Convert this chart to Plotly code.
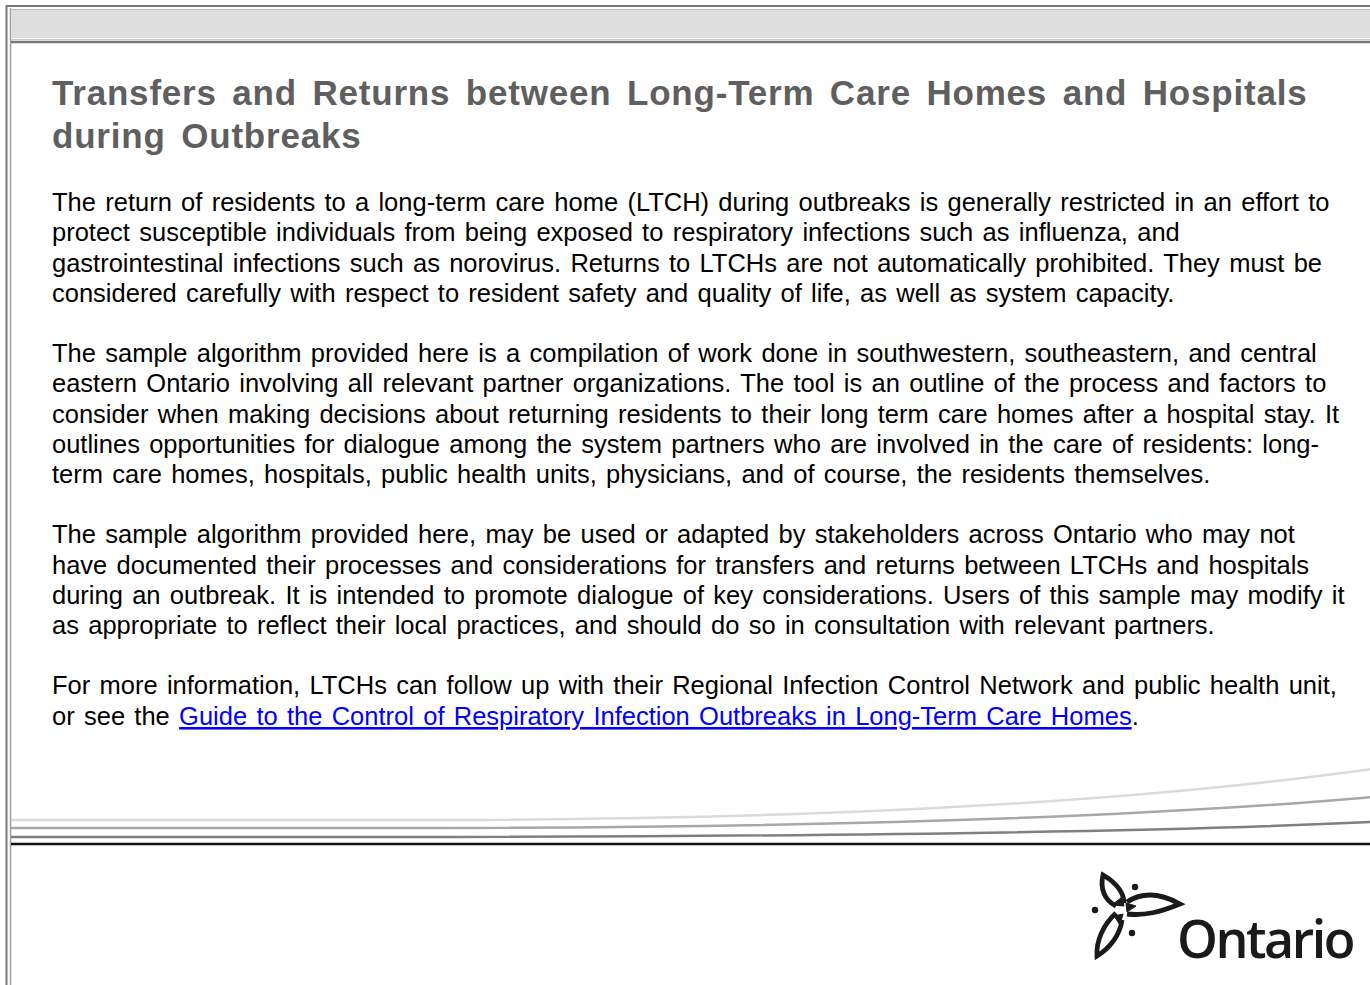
import plotly.graph_objects as go

W, H = 1370, 985

title_lines = [
    "Transfers and Returns between Long-Term Care Homes and Hospitals",
    "during Outbreaks",
]

paragraphs = [
    [
        "The return of residents to a long-term care home (LTCH) during outbreaks is generally restricted in an effort to",
        "protect susceptible individuals from being exposed to respiratory infections such as influenza, and",
        "gastrointestinal infections such as norovirus. Returns to LTCHs are not automatically prohibited. They must be",
        "considered carefully with respect to resident safety and quality of life, as well as system capacity.",
    ],
    [
        "The sample algorithm provided here is a compilation of work done in southwestern, southeastern, and central",
        "eastern Ontario involving all relevant partner organizations. The tool is an outline of the process and factors to",
        "consider when making decisions about returning residents to their long term care homes after a hospital stay. It",
        "outlines opportunities for dialogue among the system partners who are involved in the care of residents: long-",
        "term care homes, hospitals, public health units, physicians, and of course, the residents themselves.",
    ],
    [
        "The sample algorithm provided here, may be used or adapted by stakeholders across Ontario who may not",
        "have documented their processes and considerations for transfers and returns between LTCHs and hospitals",
        "during an outbreak. It is intended to promote dialogue of key considerations. Users of this sample may modify it",
        "as appropriate to reflect their local practices, and should do so in consultation with relevant partners.",
    ],
    [
        "For more information, LTCHs can follow up with their Regional Infection Control Network and public health unit,",
        "or see the {LINK}.",
    ],
]

link_text = "Guide to the Control of Respiratory Infection Outbreaks in Long-Term Care Homes"
logo_text = "Ontario"

fig = go.Figure()
fig.update_layout(
    width=W, height=H,
    margin=dict(l=0, r=0, t=0, b=0),
    paper_bgcolor="white", plot_bgcolor="white",
    xaxis=dict(range=[0, W], visible=False, fixedrange=True),
    yaxis=dict(range=[H, 0], visible=False, fixedrange=True),
    showlegend=False,
)

shapes = []
# outer frame
shapes.append(dict(type="line", x0=6.5, x1=6.5, y0=5, y1=H, line=dict(color="#777777", width=2)))
shapes.append(dict(type="line", x0=10.5, x1=10.5, y0=8, y1=H, line=dict(color="#a0a0a0", width=1.5)))
shapes.append(dict(type="line", x0=6, x1=W, y0=6, y1=6, line=dict(color="#777777", width=2)))
# top grey band
shapes.append(dict(type="rect", x0=11, x1=W, y0=9, y1=38, fillcolor="#dedede", line=dict(width=0)))
shapes.append(dict(type="line", x0=11, x1=W, y0=9.5, y1=9.5, line=dict(color="#bdbdbd", width=1)))
shapes.append(dict(type="line", x0=11, x1=W, y0=39.5, y1=39.5, line=dict(color="#c8c8c8", width=1)))
shapes.append(dict(type="line", x0=11, x1=W, y0=42, y1=42, line=dict(color="#777777", width=2.5)))

# bottom swoosh lines
shapes.append(dict(type="path", path="M 11 820 L 450 820 C 850 819 1150 800 1372 769",
                   line=dict(color="#dadada", width=2.5)))
shapes.append(dict(type="path", path="M 11 828 L 450 828 C 900 827 1180 814 1372 797",
                   line=dict(color="#a8a8a8", width=2.5)))
shapes.append(dict(type="path", path="M 11 837 L 450 837 C 900 836 1200 830 1372 822",
                   line=dict(color="#808080", width=2.5)))
shapes.append(dict(type="line", x0=11, x1=W, y0=844, y1=844, line=dict(color="#111111", width=2.5)))

# trillium logo (approximation)
petals = [
    "M 1116 906 C 1104 900 1100 888 1103 875 C 1112 880 1124 890 1124 903",
    "M 1127 902 C 1142 892 1160 893 1180 904 C 1160 912 1145 916 1127 914",
    "M 1116 913 C 1104 924 1096 940 1097 956 C 1110 948 1120 935 1122 920",
]
for p in petals:
    shapes.append(dict(type="path", path=p, line=dict(color="#1a1a1a", width=4.8)))
# darker wedges near the centre
wedges = [
    "M 1112 905 L 1122 897 L 1124 906 Z",
    "M 1126 903 L 1136 906 L 1127 912 Z",
    "M 1114 916 L 1123 914 L 1120 925 Z",
]
for p in wedges:
    shapes.append(dict(type="path", path=p, fillcolor="#1a1a1a", line=dict(color="#1a1a1a", width=1)))
for (cx, cy) in [(1135, 887), (1095, 910), (1132, 933)]:
    shapes.append(dict(type="circle", x0=cx - 3.2, x1=cx + 3.2, y0=cy - 3.2, y1=cy + 3.2,
                       fillcolor="#1a1a1a", line=dict(width=0)))
fig.update_layout(shapes=shapes)

ann = []
# title
title_y0, title_dy = 92, 43
for i, t in enumerate(title_lines):
    ann.append(dict(x=50, y=title_y0 + i * title_dy,
                    text="<span style='letter-spacing:0.8px;word-spacing:5px'><b>" + t + "</b></span>",
                    xanchor="left", yanchor="middle", showarrow=False,
                    font=dict(family="Liberation Sans, Arial", size=35, color="#5f5f5f")))

# body
body_y0, line_dy, para_gap = 202, 30.25, 30
y = body_y0
for para in paragraphs:
    for line in para:
        txt = line.replace("{LINK}", "<span style='color:#0000ff'><u>" + link_text + "</u></span>")
        txt = "<span style='word-spacing:2.2px'>" + txt + "</span>"
        ann.append(dict(x=50, y=y, text=txt, xanchor="left", yanchor="middle", showarrow=False,
                        font=dict(family="Liberation Sans, Arial", size=25.5, color="#000000")))
        y += line_dy
    y += para_gap

# logo text
ann.append(dict(x=1175, y=937, text="<span style='letter-spacing:-2.5px'>" + logo_text + "</span>",
                xanchor="left", yanchor="middle", showarrow=False,
                font=dict(family="Open Sans", size=52, color="#1a1a1a", weight=600)))
fig.update_layout(annotations=ann)

fig.write_html("out.html", config={"displayModeBar": False},
               post_script="document.body.style.margin='0px';document.body.style.overflow='hidden';")
